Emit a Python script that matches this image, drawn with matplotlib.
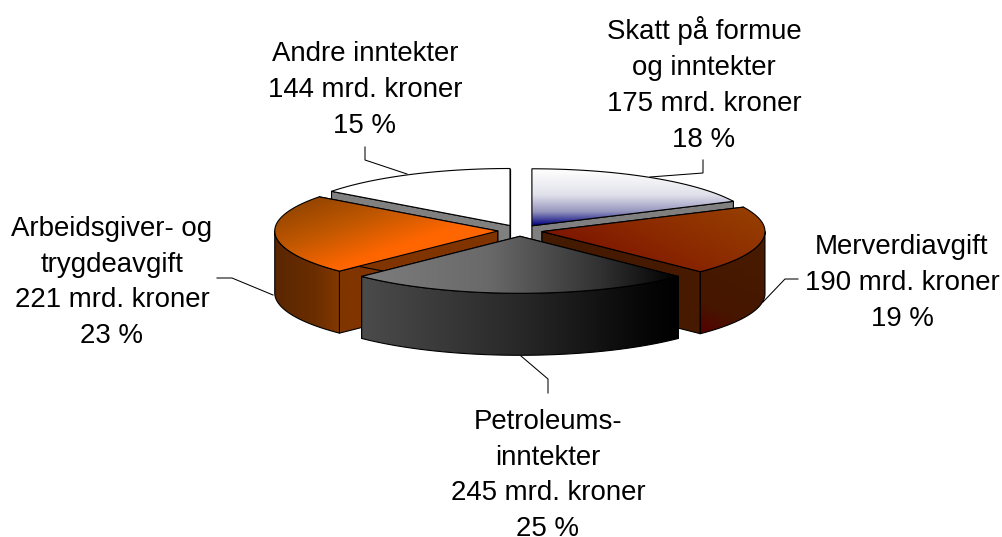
import numpy as np
import matplotlib
matplotlib.use('Agg')
import matplotlib.pyplot as plt
from matplotlib.patches import Polygon

# mrd. kroner, clockwise from 12 o'clock
names = ['Skatt', 'Merverdi', 'Petroleum', 'Arbeidsgiver', 'Andre']
values = [175, 190, 245, 221, 144]

label_texts = [
    'Skatt på formue\nog inntekter\n175 mrd. kroner\n18 %',
    'Merverdiavgift\n190 mrd. kroner\n19 %',
    'Petroleums-\ninntekter\n245 mrd. kroner\n25 %',
    'Arbeidsgiver- og\ntrygdeavgift\n221 mrd. kroner\n23 %',
    'Andre inntekter\n144 mrd. kroner\n15 %',
]
label_pos = [(704, 84.5), (902, 283), (548, 475.5), (112, 282.5), (365, 90)]

leaders = [
    [(703, 160), (703, 173), (650, 177)],
    [(798, 279), (785, 279), (763, 302)],
    [(521, 356), (548, 379), (548, 393)],
    [(217, 278), (232, 278), (273, 295)],
    [(365, 147), (365, 160), (407, 174)],
]

# pie geometry in pixels
cx, cy = 520, 230.6
rx, ry = 223, 57
thick = 62
explode = 0.1

# gradients: direction (dx, dy) and colour stops
styles = {
    'Skatt': dict(
        top=((0, 1), [(0, (255, 255, 255)), (.45, (225, 225, 235)), (.75, (150, 150, 190)), (1, (0, 0, 128))]),
        side=((1, 0), [(0, (128, 128, 128)), (1, (128, 128, 128))]),
        wall=((1, 0), [(0, (128, 128, 128)), (1, (128, 128, 128))])),
    'Merverdi': dict(
        top=((-.5, 1), [(0, (150, 62, 0)), (.6, (138, 40, 0)), (1, (125, 22, 0))]),
        side=((-.45, 1), [(0, (72, 28, 0)), (.75, (70, 22, 0)), (1, (85, 0, 0))]),
        wall=((1, 0), [(0, (68, 26, 0)), (1, (72, 26, 0))])),
    'Petroleum': dict(
        top=((1, 0), [(0, (125, 125, 125)), (.4, (105, 105, 105)), (.75, (50, 50, 50)), (1, (0, 0, 0))]),
        side=((1, 0), [(0, (75, 75, 75)), (.5, (40, 40, 40)), (.9, (6, 6, 6)), (1, (0, 0, 0))]),
        wall=((1, 0), [(0, (60, 60, 60)), (1, (60, 60, 60))])),
    'Arbeidsgiver': dict(
        top=((.35, 1), [(0, (150, 70, 0)), (.4, (195, 88, 0)), (.8, (255, 102, 0)), (1, (255, 102, 0))]),
        side=((1, 0), [(0, (90, 38, 0)), (.6, (105, 45, 0)), (1, (132, 56, 0))]),
        wall=((1, 0), [(0, (128, 52, 0)), (1, (128, 52, 0))])),
    'Andre': dict(
        top=((1, 0), [(0, (255, 255, 255)), (1, (255, 255, 255))]),
        side=((1, 0), [(0, (128, 128, 128)), (1, (128, 128, 128))]),
        wall=((1, 0), [(0, (128, 128, 128)), (1, (128, 128, 128))])),
}

# back slices first, front slice last
draw_order = ['Andre', 'Skatt', 'Arbeidsgiver', 'Merverdi', 'Petroleum']

fig = plt.figure(figsize=(10.03, 5.37), dpi=100)
ax = fig.add_axes([0, 0, 1, 1])
ax.set_xlim(0, 1003)
ax.set_ylim(537, 0)
ax.axis('off')

layer = [1]


def grad_poly(pts, spec):
    direction, stops = spec
    pts = np.array(pts)
    x0, y0 = pts.min(axis=0)
    x1, y1 = pts.max(axis=0)
    xx, yy = np.meshgrid(np.arange(x0 - 1, x1 + 2), np.arange(y0 - 1, y1 + 2))
    t = xx * direction[0] + yy * direction[1]
    corners = pts[:, 0] * direction[0] + pts[:, 1] * direction[1]
    t = np.clip((t - corners.min()) / (corners.max() - corners.min()), 0, 1)
    pos = [s[0] for s in stops]
    img = np.dstack([np.interp(t, pos, [s[1][c] for s in stops]) for c in range(3)]) / 255
    im = ax.imshow(img, extent=(xx.min(), xx.max(), yy.max(), yy.min()), aspect='auto',
                   interpolation='bilinear', zorder=layer[0])
    im.set_clip_path(Polygon(pts, closed=True, transform=ax.transData))
    ax.add_patch(Polygon(pts, closed=True, fill=False, edgecolor='black', linewidth=0.8,
                         joinstyle='round', zorder=layer[0] + 0.5))
    layer[0] += 1


def arc_points(px, py, a0, a1):
    th = np.linspace(a0, a1, 80)
    return np.column_stack([px + rx * np.sin(th), py - ry * np.cos(th)])


total = sum(values)
edges = np.cumsum([0] + values) / total * 2 * np.pi
ax_angles = {n: (edges[i], edges[i + 1]) for i, n in enumerate(names)}

for name in draw_order:
    a0, a1 = ax_angles[name]
    mid = (a0 + a1) / 2
    px = cx + explode * rx * np.sin(mid)
    py = cy - explode * ry * np.cos(mid)
    arc = arc_points(px, py, a0, a1)
    down = np.array([0, thick])
    apex = np.array([px, py])
    st = styles[name]
    # radial walls, outer wall (front half only), then the top
    grad_poly([apex, arc[0], arc[0] + down, apex + down], st['wall'])
    grad_poly([apex, arc[-1], arc[-1] + down, apex + down], st['wall'])
    s0, s1 = max(a0, np.pi / 2), min(a1, 3 * np.pi / 2)
    if s0 < s1:
        front = arc_points(px, py, s0, s1)
        grad_poly(np.vstack([front, (front + down)[::-1]]), st['side'])
    grad_poly(np.vstack([apex, arc]), st['top'])

for line in leaders:
    xs, ys = zip(*line)
    ax.plot(xs, ys, color='black', lw=0.75, solid_joinstyle='miter', zorder=layer[0])

for txt, (x, y) in zip(label_texts, label_pos):
    ax.text(x, y, txt, ha='center', va='center', family='Liberation Sans', fontsize=19.9,
            linespacing=1.49, color='black', zorder=layer[0] + 1)

ax.set_xlim(0, 1003)
ax.set_ylim(537, 0)
fig.savefig('out.png', dpi=100)
